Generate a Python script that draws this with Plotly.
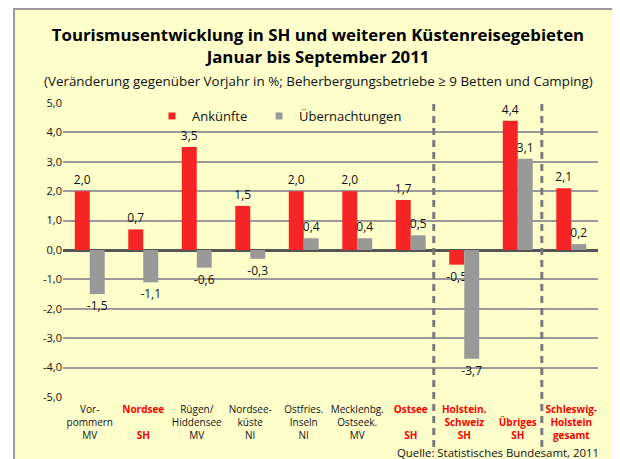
import plotly.graph_objects as go

categories = ["Vorpommern MV", "Nordsee SH", "Rügen/Hiddensee MV", "Nordseeküste NI",
              "Ostfries. Inseln NI", "Mecklenbg. Ostseek. MV", "Ostsee SH",
              "Holstein. Schweiz SH", "Übriges SH", "Schleswig-Holstein gesamt"]
tick_labels = ["Vor-<br>pommern<br>MV",
               "<span style='color:#ff0000'><b>Nordsee</b></span><br> <br><span style='color:#ff0000'><b>SH</b></span>",
               "Rügen/<br>Hiddensee<br>MV",
               "Nordsee-<br>küste<br>NI",
               "Ostfries.<br>Inseln<br>NI",
               "Mecklenbg.<br>Ostseek.<br>MV",
               "<span style='color:#ff0000'><b>Ostsee</b></span><br> <br><span style='color:#ff0000'><b>SH</b></span>",
               "<span style='color:#ff0000'><b>Holstein.<br>Schweiz<br>SH</b></span>",
               " <br><span style='color:#ff0000'><b>Übriges<br>SH</b></span>",
               "<span style='color:#ff0000'><b>Schleswig-<br>Holstein<br>gesamt</b></span>"]
ankuenfte = [2.0, 0.7, 3.5, 1.5, 2.0, 2.0, 1.7, -0.5, 4.4, 2.1]
uebernachtungen = [-1.5, -1.1, -0.6, -0.3, 0.4, 0.4, 0.5, -3.7, 3.1, 0.2]
y_ticks = [5, 4, 3, 2, 1, 0, -1, -2, -3, -4, -5]
y_tick_labels = ["5,0", "4,0", "3,0", "2,0", "1,0", "0,0", "-1,0", "-2,0", "-3,0", "-4,0", "-5,0"]

RED = "#f52525"
GRAY = "#999999"
FONT = "Open Sans"

def fmt(v):
    return f"{v:.1f}".replace(".", ",")

fig = go.Figure()
fig.add_trace(go.Bar(x=categories, y=ankuenfte, marker=dict(color=RED, line=dict(width=0)),
                     text=[fmt(v) for v in ankuenfte], textposition="outside", constraintext="none",
                     textfont=dict(size=12, color="#111"), cliponaxis=False, showlegend=False))
fig.add_trace(go.Bar(x=categories, y=uebernachtungen, marker=dict(color=GRAY, line=dict(width=0)),
                     text=[fmt(v) for v in uebernachtungen], textposition="outside", constraintext="none",
                     textfont=dict(size=12, color="#111"), cliponaxis=False, showlegend=False))
# legend entries
fig.add_trace(go.Scatter(x=[None], y=[None], mode="markers", name="Ankünfte\u00a0\u00a0",
                         marker=dict(symbol="square", size=7, color=RED)))
fig.add_trace(go.Scatter(x=[None], y=[None], mode="markers", name="Übernachtungen",
                         marker=dict(symbol="square", size=7, color=GRAY)))

OFF = 8  # page body margin
W, H = 620 - OFF, 459 - OFF
# plot area in page pixels: x 63..598, y 103..397
L, R, T, B = 63 - OFF, 620 - 598, 103 - OFF, 459 - 397
pw, ph = W - L - R, H - T - B

def px_x(p):  # page px -> paper
    return (p - OFF - L) / pw

def px_y(p):
    return (H - B - (p - OFF)) / ph

shapes = [
    dict(type="rect", xref="paper", yref="paper", x0=px_x(14), x1=px_x(630), y0=px_y(470), y1=px_y(9),
         line=dict(color="#9a9a9a", width=2), fillcolor="#ffffcc", layer="below"),
]
for xv in [6.43, 8.45]:
    shapes.append(dict(type="line", xref="x", yref="paper", x0=xv, x1=xv, y0=px_y(447), y1=px_y(104),
                       line=dict(color="#7a7a7a", width=3, dash="7px,5px")))

fig.update_layout(
    width=W, height=H,
    margin=dict(l=L, r=R, t=T, b=B),
    paper_bgcolor="white", plot_bgcolor="rgba(0,0,0,0)",
    font=dict(family=FONT, color="#111", size=11),
    barmode="group", bargap=0.44, bargroupgap=0,
    title=dict(text="<b>Tourismusentwicklung in SH und weiteren Küstenreisegebieten<br>Januar bis September 2011</b>",
               x=0.5 + 4 / W, xanchor="center", y=1 - 33 / H, yanchor="top",
               font=dict(size=16.8, family=FONT, color="#000")),
    shapes=shapes,
    annotations=[
        dict(text="(Veränderung gegenüber Vorjahr in %; Beherbergungsbetriebe ≥ 9 Betten und Camping)",
             xref="paper", yref="paper", x=px_x(318), y=px_y(81), xanchor="center", yanchor="middle",
             showarrow=False, font=dict(size=13.4, color="#111")),
        dict(text="Quelle: Statistisches Bundesamt, 2011",
             xref="paper", yref="paper", x=px_x(601), y=px_y(452), xanchor="right", yanchor="middle",
             showarrow=False, font=dict(size=11.4, color="#111")),
    ],
    legend=dict(orientation="h", x=px_x(152), xanchor="left", y=px_y(116), yanchor="middle",
                bgcolor="rgba(0,0,0,0)", font=dict(size=13, color="#111"), itemwidth=30),
    xaxis=dict(tickvals=categories, ticktext=tick_labels, range=[-0.5, 9.5], showgrid=False,
               showline=False, ticks="", tickfont=dict(size=10, color="#111"), zeroline=False,
               ticklabelstandoff=5),
    yaxis=dict(range=[-5, 5], tickvals=y_ticks, ticktext=y_tick_labels, showgrid=True,
               gridcolor="#9a9a9a", gridwidth=1.5, zeroline=True, zerolinecolor="#555555",
               zerolinewidth=3, ticks="", tickfont=dict(size=11, color="#111")),
)

fig.write_html("out.html")
